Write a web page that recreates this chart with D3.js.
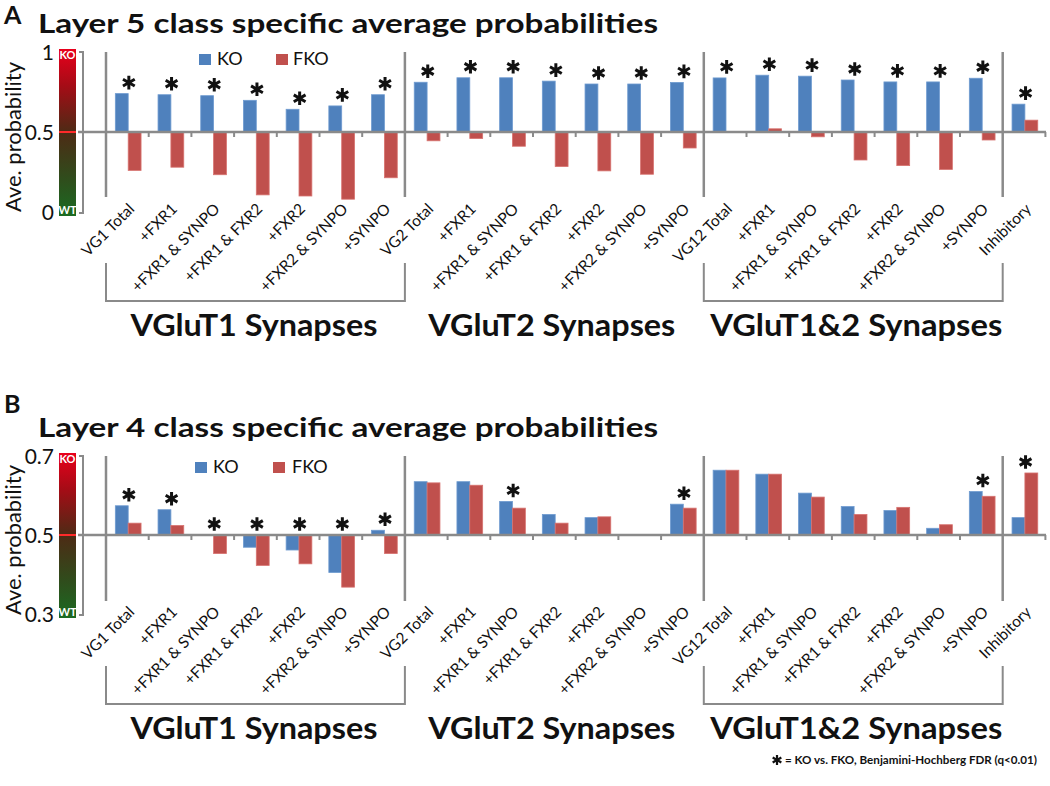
<!DOCTYPE html>
<html><head><meta charset="utf-8">
<script src="https://cdn.jsdelivr.net/npm/d3@7"></script>
<style>
body{margin:0;background:#fff}
svg{display:block}
text{font-family:Lato,"Open Sans",sans-serif;fill:#111}
</style>
</head><body>
<svg id="c" width="1050" height="786"></svg>
<script>
// ---------- data ----------
const categories = ["VG1 Total","+FXR1","+FXR1 & SYNPO","+FXR1 & FXR2","+FXR2","+FXR2 & SYNPO","+SYNPO",
  "VG2 Total","+FXR1","+FXR1 & SYNPO","+FXR1 & FXR2","+FXR2","+FXR2 & SYNPO","+SYNPO",
  "VG12 Total","+FXR1","+FXR1 & SYNPO","+FXR1 & FXR2","+FXR2","+FXR2 & SYNPO","+SYNPO",
  "Inhibitory"];
const seriesNames = ["KO","FKO"];
const groupNames = ["VGluT1 Synapses","VGluT2 Synapses","VGluT1&2 Synapses"];
const groupStart = [0,7,14];
const groupEnd = [7,14,21];
const bracketGroups = [0,2];

const layer5KO  = [0.740,0.733,0.727,0.698,0.642,0.663,0.733, 0.811,0.839,0.839,0.818,0.800,0.800,0.810, 0.838,0.855,0.849,0.825,0.813,0.813,0.836, 0.674];
const layer5FKO = [0.260,0.280,0.233,0.107,0.100,0.080,0.214, 0.445,0.459,0.411,0.284,0.257,0.236,0.400, 0.498,0.520,0.470,0.325,0.290,0.266,0.450, 0.574];
const layer5Sig = [1,1,1,1,1,1,1, 1,1,1,1,1,1,1, 1,1,1,1,1,1,1, 1];

const layer4KO  = [0.574,0.564,0.500,0.469,0.462,0.405,0.512, 0.635,0.635,0.585,0.552,0.544,0.500,0.578, 0.664,0.654,0.606,0.572,0.562,0.517,0.610, 0.544];
const layer4FKO = [0.530,0.524,0.453,0.423,0.427,0.368,0.453, 0.632,0.626,0.568,0.530,0.546,0.500,0.568, 0.664,0.654,0.596,0.552,0.570,0.526,0.598, 0.657];
const layer4Sig = [1,1,1,1,1,1,1, 0,0,1,0,0,0,1, 0,0,0,0,0,0,1, 1];

const layer5Ticks = [0,0.5,1];
const layer5TickLabels = ["0","0.5","1"];
const layer4Ticks = [0.3,0.5,0.7];
const layer4TickLabels = ["0.3","0.5","0.7"];

const titleA = "Layer 5 class specific average probabilities";
const titleB = "Layer 4 class specific average probabilities";
const yTitle = "Ave. probability";
const footnote = "= KO vs. FKO, Benjamini-Hochberg FDR (q<0.01)";

// ---------- drawing ----------
const svg = d3.select("#c");
svg.append("rect").attr("width",1050).attr("height",786).attr("fill","#fff");
const gray = "#8a8a8a";

const x = d3.scaleBand().domain(d3.range(categories.length)).range([106,1045.4]).padding(0);
const xi = d3.scaleBand().domain(seriesNames).range([0,x.bandwidth()]).paddingInner(0).paddingOuter(0.66).align(0.55);
const color = d3.scaleOrdinal(seriesNames, ["#4f81bd","#c0504d"]);
const stroke = d3.scaleOrdinal(seriesNames, ["#6f9bd0","#d77370"]);

const defs = svg.append("defs");
const grad = defs.append("linearGradient").attr("id","kowt").attr("x1",0).attr("y1",0).attr("x2",0).attr("y2",1);
[[0,"#e8001c"],[0.22,"#a50c16"],[0.5,"#4d2b15"],[0.78,"#2f4d1c"],[1,"#1b6b22"]]
  .forEach(([o,c]) => grad.append("stop").attr("offset",o).attr("stop-color",c));

function panel(cfg){
  const g = svg.append("g");
  const y = d3.scaleLinear().domain(cfg.domain).range(cfg.range);
  const base = y(0.5);
  const top = cfg.range[1], bottom = cfg.range[0];

  // panel letter and title
  g.append("text").attr("x",4).attr("y",cfg.letterY).attr("font-size",25).attr("font-weight",700).text(cfg.letter);
  g.append("text").attr("x",38).attr("y",cfg.titleY).attr("font-size",27).attr("font-weight",700)
    .attr("textLength",620).attr("lengthAdjust","spacingAndGlyphs").text(cfg.title);

  // gradient bar
  g.append("rect").attr("x",59).attr("y",top-3).attr("width",17).attr("height",bottom-top+7).attr("fill","url(#kowt)");
  g.append("line").attr("x1",59).attr("x2",76).attr("y1",base).attr("y2",base).attr("stroke","#ff2a2a").attr("stroke-width",2);
  g.append("text").attr("x",67.5).attr("y",top+3).attr("dy","0.35em").attr("text-anchor","middle")
    .attr("font-size",11).attr("font-weight",700).style("fill","#fff").text("KO");
  g.append("text").attr("x",67.5).attr("y",bottom-2).attr("dy","0.35em").attr("text-anchor","middle")
    .attr("font-size",11).attr("font-weight",700).style("fill","#fff").text("WT");
  g.append("path").attr("d",`M79,${top}H83V${bottom+1}H79`).attr("fill","none").attr("stroke",gray).attr("stroke-width",2);

  // y tick labels
  g.selectAll(".yt").data(cfg.ticks).join("text")
    .attr("x",54).attr("y",d=>y(d)).attr("dy","0.36em").attr("text-anchor","end").attr("font-size",21)
    .text((d,i)=>cfg.tickLabels[i]);
  g.append("text").attr("transform",`translate(21,${base+5}) rotate(-90)`).attr("text-anchor","middle")
    .attr("font-size",21).attr("textLength",150).attr("lengthAdjust","spacingAndGlyphs").text(yTitle);

  // separators
  groupStart.concat([21]).forEach(i=>{
    g.append("line").attr("x1",x(i)).attr("x2",x(i)).attr("y1",top).attr("y2",top+145)
      .attr("stroke",gray).attr("stroke-width",2.5);
  });

  // bars
  cfg.ko.forEach((v,i)=>{
    [["KO",v],["FKO",cfg.fko[i]]].forEach(([s,val])=>{
      const h = Math.abs(y(val)-base);
      if(h<0.3) return;
      g.append("rect").attr("x",x(i)+xi(s)).attr("width",xi.bandwidth())
        .attr("y",Math.min(y(val),base)).attr("height",h)
        .attr("fill",color(s)).attr("stroke",stroke(s)).attr("stroke-width",0.8);
    });
  });

  // axis line at 0.5
  g.append("line").attr("x1",78).attr("x2",1046).attr("y1",base).attr("y2",base).attr("stroke",gray).attr("stroke-width",2.6);
  // small ticks
  const tickIdx = d3.range(1,categories.length+1).filter(i=>!groupStart.includes(i) && i!==21);
  tickIdx.forEach(i=>{
    const xx = i<categories.length ? x(i) : x.range()[1];
    g.append("line").attr("x1",xx).attr("x2",xx).attr("y1",base).attr("y2",base+5).attr("stroke",gray).attr("stroke-width",2);
  });

  // significance asterisks
  const ast = d3.symbol().type(d3.symbolAsterisk).size(130);
  cfg.sig.forEach((s,i)=>{
    if(!s) return;
    const m = Math.max(cfg.ko[i],cfg.fko[i],0.5);
    g.append("path").attr("d",ast()).attr("transform",`translate(${x(i)+x.bandwidth()/2+1.5},${y(m)-11})`)
      .attr("fill","none").attr("stroke","#111").attr("stroke-width",3);
  });

  // category labels
  g.selectAll(".xl").data(categories).join("text")
    .attr("transform",(d,i)=>`translate(${x(i)+x.bandwidth()/2+8},${base+78}) rotate(-45)`)
    .attr("text-anchor","end").attr("font-size",15.5).text(d=>d);

  // brackets
  bracketGroups.forEach(k=>{
    const x0 = x(groupStart[k]), x1 = x(groupEnd[k]);
    g.append("path").attr("d",`M${x0},${base+131}V${base+169}H${x1}V${base+131}`)
      .attr("fill","none").attr("stroke",gray).attr("stroke-width",2);
  });
  // group labels
  const gw = [247,247,292];
  groupNames.forEach((n,k)=>{
    const cx = (x(groupStart[k]) + x(groupEnd[k]))/2 + [-1.5,-2.5,3][k];
    g.append("text").attr("x",cx).attr("y",base+204).attr("text-anchor","middle")
      .attr("font-size",31).attr("font-weight",700)
      .attr("textLength",gw[k]).attr("lengthAdjust","spacingAndGlyphs").text(n);
  });

  // legend
  const L = cfg.legend;
  seriesNames.forEach((s,k)=>{
    g.append("rect").attr("x",L.sq[k]).attr("y",L.y).attr("width",12).attr("height",11).attr("fill",color(s));
    g.append("text").attr("x",L.tx[k]).attr("y",L.y+11).attr("font-size",18).text(s);
  });
}

panel({letter:"A", letterY:24, title:titleA, titleY:33, domain:[0,1], range:[212,52],
  ticks:layer5Ticks, tickLabels:layer5TickLabels, ko:layer5KO, fko:layer5FKO, sig:layer5Sig,
  legend:{sq:[199,276], tx:[217,293], y:54}});
panel({letter:"B", letterY:413, title:titleB, titleY:437, domain:[0.3,0.7], range:[614,456],
  ticks:layer4Ticks, tickLabels:layer4TickLabels, ko:layer4KO, fko:layer4FKO, sig:layer4Sig,
  legend:{sq:[195,273], tx:[213,292], y:462}});

// footnote
svg.append("path").attr("d",d3.symbol().type(d3.symbolAsterisk).size(70)())
  .attr("transform","translate(777,760)").attr("fill","none").attr("stroke","#111").attr("stroke-width",2.2);
svg.append("text").attr("x",785).attr("y",764).attr("font-size",11).attr("font-weight",700)
  .attr("textLength",252).attr("lengthAdjust","spacingAndGlyphs").text(footnote);
</script>
</body></html>
